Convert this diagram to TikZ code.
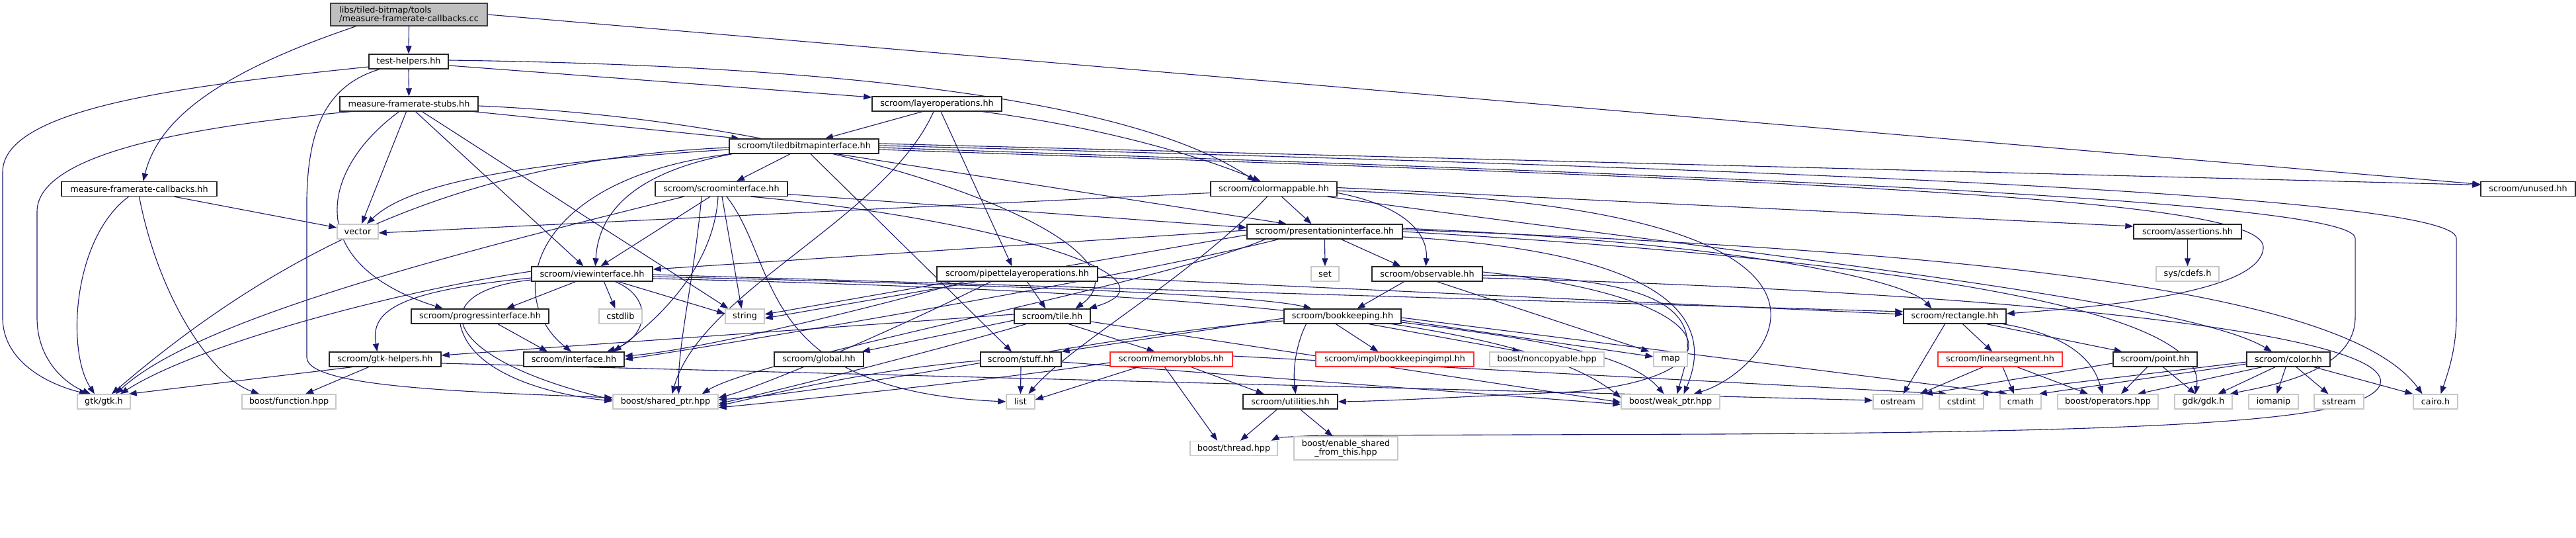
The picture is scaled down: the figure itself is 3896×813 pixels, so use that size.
\documentclass[tikz,border=0pt]{standalone}
\usepackage{fontspec}
\setmainfont{DejaVu Sans}
\usetikzlibrary{arrows.meta}
\pgfdeclarelayer{bg}
\pgfsetlayers{bg,main}
\definecolor{edgec}{HTML}{191970}
\definecolor{graybd}{HTML}{C8C8C8}
\definecolor{rootfill}{HTML}{BFBFBF}
\definecolor{rootbd}{HTML}{404040}
\definecolor{redbd}{HTML}{FF3030}
\tikzset{
 nb/.style={draw=black!85, line width=1.4pt, fill=white, minimum height=22pt, inner sep=0pt, font=\fontsize{12.8}{13}\selectfont},
 ng/.style={nb, draw=graybd},
 nr/.style={nb, draw=redbd},
 e/.style={draw=edgec, line width=1.1pt, -{Triangle[length=12pt,width=9pt]}},
}
\newcommand\mknode[6]{\node[#5,minimum width=#4pt] (#1) at (#2,#3) {#6};}
\begin{document}
\begin{tikzpicture}[x=1pt,y=-1pt]
\useasboundingbox (0,0) rectangle (3896,813);
\begin{pgfonlayer}{bg}
\fill[white] (0,0) rectangle (3896,813);
\end{pgfonlayer}
% ---------- nodes ----------
\node[nb, fill=rootfill, draw=rootbd, minimum width=237pt, minimum height=34pt, align=left, font=\fontsize{12.8}{13}\selectfont] (root) at (618.5,22) {libs/tiled-bitmap/tools\\/measure-framerate-callbacks.cc};
\mknode{test}{618}{93}{120}{nb}{test-helpers.hh}
\mknode{stubs}{618.5}{157}{209}{nb}{measure-framerate-stubs.hh}
\mknode{mfccb}{210.5}{285.5}{235}{nb}{measure-framerate-callbacks.hh}
\mknode{vector}{541}{350}{62}{ng}{vector}
\mknode{gtk}{157}{607}{80}{ng}{gtk/gtk.h}
\mknode{function}{437}{607}{142}{ng}{boost/function.hpp}
\mknode{gtkhelpers}{582.5}{543}{169}{nb}{scroom/gtk-helpers.hh}
\mknode{progress}{726}{478}{208}{nb}{scroom/progressinterface.hh}
\mknode{tiled}{1216}{221}{226}{nb}{scroom/tiledbitmapinterface.hh}
\mknode{scroomif}{1091}{285.5}{200}{nb}{scroom/scroominterface.hh}
\mknode{view}{895.5}{414}{183}{nb}{scroom/viewinterface.hh}
\mknode{cstdlib}{938.5}{478}{65}{ng}{cstdlib}
\mknode{string}{1126.5}{478}{59}{ng}{string}
\mknode{interface}{868}{543}{152}{nb}{scroom/interface.hh}
\mknode{global}{1238.5}{543}{135}{nb}{scroom/global.hh}
\mknode{shared}{1006.5}{607}{159}{ng}{boost/shared\_ptr.hpp}
\mknode{layerops}{1417}{157}{196}{nb}{scroom/layeroperations.hh}
\mknode{colormappable}{1926.5}{285.5}{191}{nb}{scroom/colormappable.hh}
\mknode{presentation}{2003.5}{350}{235}{nb}{scroom/presentationinterface.hh}
\mknode{pipette}{1538.5}{414}{243}{nb}{scroom/pipettelayeroperations.hh}
\mknode{tile}{1591.5}{478}{115}{nb}{scroom/tile.hh}
\mknode{stuff}{1544}{543}{122}{nb}{scroom/stuff.hh}
\mknode{memoryblobs}{1771.5}{543}{185}{nr}{scroom/memoryblobs.hh}
\mknode{list}{1543.5}{607}{43}{ng}{list}
\mknode{utilities}{1951.5}{607}{143}{nb}{scroom/utilities.hh}
\mknode{thread}{1866}{677.5}{132}{ng}{boost/thread.hpp}
\node[ng, minimum width=157pt, minimum height=35pt, align=center, font=\fontsize{12.8}{13}\selectfont] (enable) at (2035.5,677.5) {boost/enable\_shared\\\_from\_this.hpp};
\mknode{bookkeeping}{2030.5}{478}{177}{nb}{scroom/bookkeeping.hh}
\mknode{set}{2004}{414}{42}{ng}{set}
\mknode{observable}{2158.5}{414}{167}{nb}{scroom/observable.hh}
\mknode{impl}{2109.5}{543}{239}{nr}{scroom/impl/bookkeepingimpl.hh}
\mknode{noncopyable}{2339.5}{543}{173}{ng}{boost/noncopyable.hpp}
\mknode{map}{2526.5}{543}{51}{ng}{map}
\mknode{weak}{2526.5}{607}{149}{ng}{boost/weak\_ptr.hpp}
\mknode{rectangle}{2956.5}{478}{155}{nb}{scroom/rectangle.hh}
\mknode{linearsegment}{3025}{543}{188}{nr}{scroom/linearsegment.hh}
\mknode{point}{3259.5}{543}{127}{nb}{scroom/point.hh}
\mknode{ostream}{2870.5}{607}{75}{ng}{ostream}
\mknode{cstdint}{2966.5}{607}{67}{ng}{cstdint}
\mknode{cmath}{3056}{607}{62}{ng}{cmath}
\mknode{operators}{3188}{607}{152}{ng}{boost/operators.hpp}
\mknode{assertions}{3308.5}{350}{163}{nb}{scroom/assertions.hh}
\mknode{cdefs}{3308.5}{414}{95}{ng}{sys/cdefs.h}
\mknode{unused}{3823.5}{285.5}{143}{nb}{scroom/unused.hh}
\mknode{color}{3461}{543}{126}{nb}{scroom/color.hh}
\mknode{gdk}{3332.5}{607}{87}{ng}{gdk/gdk.h}
\mknode{iomanip}{3438.5}{607}{75}{ng}{iomanip}
\mknode{sstream}{3537.5}{607}{75}{ng}{sstream}
\mknode{cairo}{3683.5}{607}{67}{ng}{cairo.h}
% ---------- edges ----------
\begin{pgfonlayer}{bg}
% root
\draw[e] (root.south) -- (test.north);
\draw[e] ([xshift=-80pt]root.south) .. controls (330,110) and (240,180) .. ([xshift=6pt]mfccb.north);
\draw[e] (root.east) -- ([yshift=7pt]unused.west);
% test-helpers
\draw[e] (test.south) -- (stubs.north);
\draw[e] ([yshift=-8pt]test.west) .. controls (300,128) and (4,160) .. (4,260) -- (4,480) .. controls (4,545) and (70,580) .. ([xshift=-25pt]gtk.north);
\draw[e] ([xshift=-44pt]test.south) .. controls (490,130) and (466,200) .. (464,300) -- (464,540) .. controls (464,585) and (700,592) .. ([yshift=6pt]shared.west);
\draw[e] ([yshift=-6pt]test.east) -- ([yshift=10pt]layerops.west);
\draw[e] ([yshift=2pt]test.east) .. controls (1200,98) and (1700,140) .. ([xshift=-28pt]colormappable.north);
% measure-framerate-callbacks.hh
\draw[e] ([xshift=53pt]mfccb.south) -- ([yshift=6pt]vector.west);
\draw[e] ([xshift=-16pt]mfccb.south) .. controls (110,360) and (100,530) .. ([xshift=-14pt]gtk.north);
\draw[e] (mfccb.south) .. controls (240,450) and (320,570) .. ([xshift=-45pt]function.north);
% stubs
\draw[e] ([xshift=-88pt]stubs.south) .. controls (300,190) and (56,230) .. (56,320) -- (56,480) .. controls (56,545) and (100,580) .. ([xshift=-20pt]gtk.north);
\draw[e] ([xshift=-4pt]stubs.south) -- ([xshift=6pt]vector.north);
\draw[e] ([xshift=-15pt]stubs.south) .. controls (480,260) and (460,400) .. ([xshift=-56pt]progress.north);
\draw[e] ([xshift=10pt]stubs.south) -- ([xshift=-13pt]view.north);
\draw[e] ([xshift=20pt]stubs.south) -- ([xshift=-25pt]string.north);
\draw[e] ([xshift=-7pt]stubs.south east) -- ([xshift=16pt]tiled.north west);
\draw[e] ([yshift=-3pt]stubs.east) .. controls (1300,185) and (1760,370) .. ([xshift=35pt]tile.north);
% layeroperations
\draw[e] ([xshift=-22pt]layerops.south) -- ([xshift=32pt]tiled.north);
\draw[e] ([xshift=-30pt]layerops.south east) .. controls (1650,190) and (1800,230) .. ([xshift=-20pt]colormappable.north);
\draw[e] ([xshift=6pt]layerops.south) -- ([xshift=-8pt]pipette.north);
\draw[e] ([xshift=-5pt]layerops.south) .. controls (1340,330) and (1060,440) .. ([xshift=10pt]shared.north);
% tiledbitmapinterface
\draw[e] ([xshift=-21pt]tiled.south) -- ([xshift=23pt]scroomif.north);
\draw[e] ([yshift=-5pt]tiled.west) .. controls (800,245) and (620,275) .. ([xshift=14pt]vector.north);
\draw[e] ([yshift=-2pt]tiled.west) .. controls (700,240) and (420,380) .. ([xshift=12pt]gtk.north);
\draw[e] ([xshift=5pt]tiled.south west) .. controls (960,260) and (905,320) .. ([xshift=5pt]view.north);
\draw[e] ([xshift=2pt]tiled.south west) .. controls (800,270) and (760,450) .. ([xshift=-4pt]interface.north);
\draw[e] ([xshift=50pt]tiled.south) -- ([xshift=-58pt]presentation.north);
\draw[e] ([xshift=10pt]tiled.south) -- ([xshift=-14pt]stuff.north);
\draw[e] ([yshift=4pt]tiled.east) -- ([yshift=6pt]unused.west);
\draw[e] ([yshift=1pt]tiled.east) .. controls (2500,250) and (3715,290) .. (3715,360) -- (3715,480) .. controls (3715,530) and (3700,570) .. ([xshift=8pt]cairo.north);
\draw[e] ([yshift=-2pt]tiled.east) .. controls (2500,262) and (3562,300) .. (3562,360) -- (3562,480) .. controls (3562,565) and (3420,585) .. ([xshift=-4pt]gdk.north east);
\draw[e] ([yshift=-5pt]tiled.east) .. controls (2800,275) and (3430,300) .. (3423,375) .. controls (3418,440) and (3200,462) .. ([yshift=4pt]rectangle.east);
% scroominterface
\draw[e] ([xshift=-17pt]scroomif.south) -- ([xshift=13pt]view.north);
\draw[e] ([xshift=-57pt]scroomif.south) .. controls (700,380) and (300,480) .. ([xshift=18pt]gtk.north);
\draw[e] ([xshift=-5pt]scroomif.south) .. controls (1080,400) and (1000,480) .. ([xshift=60pt]interface.north);
\draw[e] ([xshift=1pt]scroomif.south) -- ([xshift=-5pt]string.north);
\draw[e] ([xshift=8pt]scroomif.south) .. controls (1180,400) and (1140,590) .. (list.west);
\draw[e] ([yshift=-8pt]scroomif.east) -- ([yshift=6pt]presentation.west);
\draw[e] ([xshift=45pt]scroomif.south) .. controls (1500,330) and (1800,420) .. ([xshift=-3pt]tile.north east);
\draw[e] ([xshift=-30pt]scroomif.south) .. controls (1050,420) and (1025,520) .. ([xshift=20pt]shared.north);
% viewinterface
\draw[e] ([xshift=-25pt]view.south) -- ([xshift=40pt]progress.north);
\draw[e] ([xshift=18pt]view.south) -- ([xshift=-8pt]cstdlib.north);
\draw[e] ([xshift=40pt]view.south) -- ([yshift=4pt]string.west);
\draw[e] ([xshift=35pt]view.south) .. controls (990,450) and (980,510) .. ([xshift=50pt]interface.north);
\draw[e] ([yshift=-6pt]view.west) .. controls (600,440) and (560,470) .. ([xshift=-12pt]gtkhelpers.north);
\draw[e] ([yshift=4pt]view.west) .. controls (600,440) and (300,520) .. ([xshift=25pt]gtk.north);
\draw[e] ([yshift=-9pt]view.west) .. controls (640,440) and (660,540) .. ([yshift=3pt]shared.west);
\draw[e] ([yshift=-1pt]view.east) -- ([yshift=7pt]rectangle.west);
\draw[e] ([yshift=-4pt]view.east) .. controls (1500,430) and (1900,445) .. ([xshift=-47pt]bookkeeping.north);
\draw[e] ([yshift=-7pt]view.east) .. controls (1800,440) and (2300,480) .. ([yshift=6pt]weak.west);
% progressinterface
\draw[e] ([xshift=27pt]progress.south) -- ([xshift=-40pt]interface.north);
\draw[e] ([xshift=-30pt]progress.south) .. controls (710,560) and (820,595) .. ([yshift=1pt]shared.west);
% gtk-helpers
\draw[e] ([xshift=-50pt]gtkhelpers.south) -- ([xshift=-3pt]gtk.north east);
\draw[e] ([xshift=-25pt]gtkhelpers.south) -- ([xshift=25pt]function.north);
\draw[e] ([yshift=-6pt]gtkhelpers.east) -- ([yshift=2pt]ostream.west);
% pipettelayeroperations
\draw[e] ([xshift=15pt]pipette.south) -- ([xshift=-10pt]tile.north);
\draw[e] ([xshift=-80pt]pipette.south) .. controls (1300,470) and (1050,530) .. ([yshift=5pt]interface.east);
\draw[e] ([xshift=-40pt]pipette.south) .. controls (1350,500) and (1150,585) .. ([yshift=6pt]shared.east);
\draw[e] ([xshift=-100pt]pipette.south) -- ([yshift=3pt]string.east);
\draw[e] ([yshift=-5pt]pipette.east) -- ([yshift=3pt]rectangle.west);
% presentationinterface
\draw[e] ([yshift=2pt]presentation.west) -- ([yshift=7pt]view.east);
\draw[e] (presentation.south) -- (set.north);
\draw[e] ([xshift=25pt]presentation.south) -- ([xshift=-40pt]observable.north);
\draw[e] ([yshift=-5pt]presentation.west) -- ([yshift=-3pt]string.east);
\draw[e] ([xshift=-70pt]presentation.south) .. controls (1700,420) and (1100,520) .. (interface.east);
\draw[e] ([xshift=-90pt]presentation.south) .. controls (1750,430) and (1150,540) .. ([xshift=-25pt]shared.north east);
\draw[e] ([yshift=-8pt]presentation.east) .. controls (2500,380) and (2600,470) .. ([xshift=20pt]weak.north);
\draw[e] ([yshift=5pt]presentation.east) .. controls (2600,365) and (2880,420) .. ([xshift=-35pt]rectangle.north);
\draw[e] ([yshift=3pt]presentation.east) .. controls (3000,380) and (3550,440) .. ([xshift=-20pt]cairo.north);
\draw[e] (presentation.east) .. controls (2900,395) and (3340,470) .. ([xshift=-12pt]gdk.north);
% colormappable
\draw[e] ([yshift=-6pt]colormappable.west) -- ([yshift=-2pt]vector.east);
\draw[e] ([xshift=12pt]colormappable.south) -- ([xshift=-20pt]presentation.north);
\draw[e] ([yshift=-6pt]colormappable.east) .. controls (2120,310) and (2160,350) .. ([xshift=-2pt]observable.north);
\draw[e] ([yshift=2pt]colormappable.east) -- ([yshift=8pt]assertions.west);
\draw[e] ([xshift=-15pt]colormappable.south east) .. controls (2600,380) and (3300,450) .. ([xshift=-25pt]color.north);
\draw[e] ([yshift=-3pt]colormappable.east) .. controls (2900,310) and (2680,560) .. ([xshift=35pt]weak.north);
\draw[e] ([xshift=-10pt]colormappable.south) .. controls (1800,420) and (1620,520) .. ([xshift=12pt]list.north);
% observable
\draw[e] ([xshift=-35pt]observable.south) -- ([xshift=22pt]bookkeeping.north);
\draw[e] ([xshift=15pt]observable.south) -- ([xshift=-6pt]map.north west);
\draw[e] ([yshift=-2pt]observable.east) .. controls (2600,420) and (2560,510) .. ([xshift=10pt]weak.north);
\draw[e] ([yshift=3pt]observable.east) .. controls (2620,450) and (2640,570) .. (2380,592) .. controls (2200,600) and (2100,606) .. (utilities.east);
\draw[e] ([yshift=-6pt]observable.east) .. controls (3000,440) and (3620,500) .. (3600,580) .. controls (3584,635) and (3300,652) .. (2600,656) -- (2000,658) .. controls (1960,659) and (1930,662) .. ([xshift=-10pt]thread.north east);
% bookkeeping
\draw[e] ([xshift=-10pt]bookkeeping.south) -- ([xshift=-25pt]impl.north);
\draw[e] ([xshift=40pt]bookkeeping.south) -- ([xshift=-40pt]noncopyable.north);
\draw[e] ([yshift=-6pt]bookkeeping.east) -- ([yshift=4pt]map.west);
\draw[e] ([yshift=-9pt]bookkeeping.east) .. controls (2300,510) and (2460,530) .. ([xshift=-10pt]weak.north);
\draw[e] ([xshift=-55pt]bookkeeping.south) .. controls (1960,520) and (1955,560) .. ([xshift=8pt]utilities.north);
\draw[e] ([yshift=-3pt]bookkeeping.west) -- (stuff.north east);
\draw[e] ([yshift=-7pt]bookkeeping.west) .. controls (1700,500) and (1300,590) .. ([yshift=3pt]shared.east);
\draw[e] ([yshift=-2pt]bookkeeping.east) -- ([xshift=-20pt]cmath.north);
% tile
\draw[e] ([xshift=25pt]tile.south) -- ([xshift=-25pt]memoryblobs.north);
\draw[e] ([yshift=-6pt]tile.west) -- ([xshift=-3pt]global.north east);
\draw[e] ([xshift=-40pt]tile.south) .. controls (1450,520) and (1200,585) .. ([yshift=-3pt]shared.east);
\draw[e] ([yshift=-8pt]tile.east) -- ([yshift=-1pt]weak.west);
\draw[e] ([yshift=3pt]tile.west) -- ([yshift=6pt]gtkhelpers.east);
% stuff
\draw[e] (stuff.south) -- (list.north);
\draw[e] ([yshift=-2pt]stuff.west) .. controls (1300,560) and (1150,600) .. ([yshift=-6pt]shared.east);
\draw[e] ([yshift=-4pt]stuff.east) -- ([yshift=-4pt]weak.west);
% memoryblobs
\draw[e] ([xshift=-50pt]memoryblobs.south) -- ([yshift=3pt]list.east);
\draw[e] ([xshift=-10pt]memoryblobs.south) -- ([xshift=-25pt]thread.north);
\draw[e] ([xshift=30pt]memoryblobs.south) -- ([xshift=-40pt]utilities.north);
\draw[e] ([yshift=-5pt]memoryblobs.west) .. controls (1500,575) and (1200,605) .. ([yshift=-9pt]shared.east);
\draw[e] ([yshift=5pt]memoryblobs.east) -- ([xshift=-22pt]cstdint.north);
% utilities
\draw[e] ([xshift=-20pt]utilities.south) -- ([xshift=10pt]thread.north);
\draw[e] ([xshift=15pt]utilities.south) -- ([xshift=-20pt]enable.north);
% rectangle
\draw[e] ([xshift=-15pt]rectangle.south) -- ([xshift=8pt]ostream.north);
\draw[e] ([xshift=12pt]rectangle.south) -- ([xshift=-12pt]linearsegment.north);
\draw[e] ([xshift=-30pt]rectangle.south east) -- ([xshift=-50pt]point.north);
\draw[e] ([xshift=-5pt]rectangle.south east) .. controls (3150,510) and (3170,560) .. ([xshift=-8pt]operators.north);
% linearsegment
\draw[e] ([xshift=-26pt]linearsegment.south) -- ([xshift=-5pt]ostream.north east);
\draw[e] ([xshift=4pt]linearsegment.south) -- ([xshift=-10pt]cmath.north);
\draw[e] ([xshift=26pt]linearsegment.south) -- ([xshift=-30pt]operators.north);
% point
\draw[e] ([yshift=-6pt]point.west) -- ([xshift=2pt]ostream.north east);
\draw[e] ([xshift=-12pt]point.south) -- ([xshift=20pt]operators.north);
\draw[e] ([xshift=12pt]point.south) -- ([xshift=-12pt]gdk.north);
% color
\draw[e] ([yshift=-4pt]color.west) -- ([xshift=-6pt]cstdint.north east);
\draw[e] ([yshift=-7pt]color.west) -- ([xshift=-4pt]cmath.north east);
\draw[e] ([xshift=-40pt]color.south) -- ([xshift=45pt]operators.north);
\draw[e] ([xshift=-20pt]color.south) -- ([xshift=22pt]gdk.north);
\draw[e] ([xshift=-4pt]color.south) -- ([xshift=5pt]iomanip.north);
\draw[e] ([xshift=12pt]color.south) -- ([xshift=-16pt]sstream.north);
\draw[e] ([xshift=-25pt]color.south east) -- (cairo.north west);
% assertions
\draw[e] (assertions.south) -- (cdefs.north);
\end{pgfonlayer}
\end{tikzpicture}
\end{document}
